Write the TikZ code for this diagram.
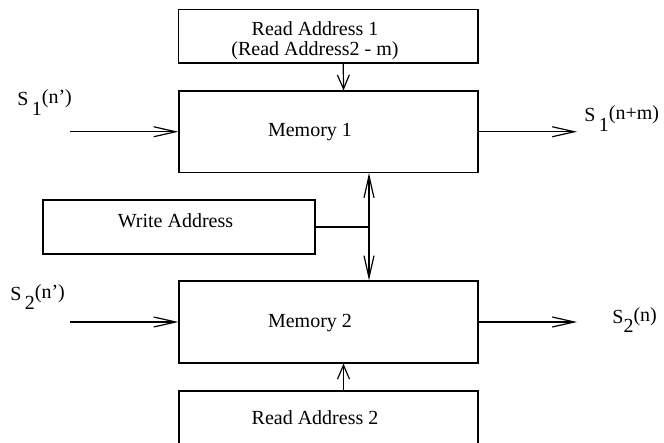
\documentclass[tikz,border=0pt]{standalone}
\usepackage{fontspec}
\setmainfont{Liberation Serif}
\usetikzlibrary{arrows.meta,positioning}

% lowered index and raised argument, as in S 1(n')
\newcommand{\signame}[3]{S#1\raisebox{-5pt}{#2}\raisebox{1pt}{(#3)}}

\begin{document}
\begin{tikzpicture}[x=0.5pt,y=-0.5pt,
    box/.style={draw,line width=0.6pt,inner sep=0pt},
    txt/.style={font=\fontsize{10}{10}\selectfont,align=center,inner sep=0pt},
    sig/.style={line width=0.6pt,-{Straight Barb[length=11pt,width=5pt]}},
    addr/.style={line width=0.6pt,-{Straight Barb[length=7pt,width=6pt]}}]
  \useasboundingbox (0,0) rectangle (664,443);
  \clip (0,0) rectangle (664,443);

  % blocks
  \node[box,minimum width=149.75pt,minimum height=26.75pt] (ra1) at (328.25,36.25) {};
  \node[box,minimum width=149.5pt,minimum height=40.75pt] (mem1) at (328.5,131.75) {};
  \node[box,minimum width=136pt,minimum height=27pt] (wa) at (179,227) {};
  \node[box,minimum width=149.5pt,minimum height=41pt] (mem2) at (328.5,322) {};
  \node[box,minimum width=149.5pt,minimum height=40pt] (ra2) at (328.5,431) {};

  % block texts
  \node[txt] (ra1txt) at (315,41) {Read Address 1\\(Read Address2 - m)};
  \node[txt] (mem1txt) at (310,132) {Memory 1};
  \node[txt] (watxt) at (175.5,221) {Write Address};
  \node[txt] (mem2txt) at (310,323) {Memory 2};
  \node[txt] (ra2txt) at (315,418) {Read Address 2};

  % signals in and out
  \coordinate (s1in) at (70,131.75);
  \coordinate (s1out) at (577,131.75);
  \coordinate (s2in) at (70,322);
  \coordinate (s2out) at (577,322);
  \draw[sig] (s1in) -- (mem1.west);
  \draw[sig] (mem1.east) -- (s1out);
  \draw[sig] (s2in) -- (mem2.west);
  \draw[sig] (mem2.east) -- (s2out);

  \node[txt,anchor=base west] (s1inlbl) at (17,106) {\signame{\,}{1}{n'}};
  \node[txt,anchor=base west] (s1outlbl) at (584,122) {\signame{\,}{1}{n+m}};
  \node[txt,anchor=base west] (s2inlbl) at (10,300) {\signame{\,}{2}{n'}};
  \node[txt,anchor=base west] (s2outlbl) at (612,323) {\signame{}{2}{n}};

  % read addresses
  \draw[addr] ([xshift=7.5pt]ra1.south) -- ([xshift=7.5pt]mem1.north);
  \draw[addr] ([xshift=7.5pt]ra2.north) -- ([xshift=7.5pt]mem2.south);

  % write address to both memories
  \coordinate (bus) at (369,227);
  \draw[line width=0.6pt] (wa.east) -- (bus);
  \draw[sig] (bus) -- (bus |- mem1.south);
  \draw[sig] (bus) -- (bus |- mem2.north);
\end{tikzpicture}
\end{document}
